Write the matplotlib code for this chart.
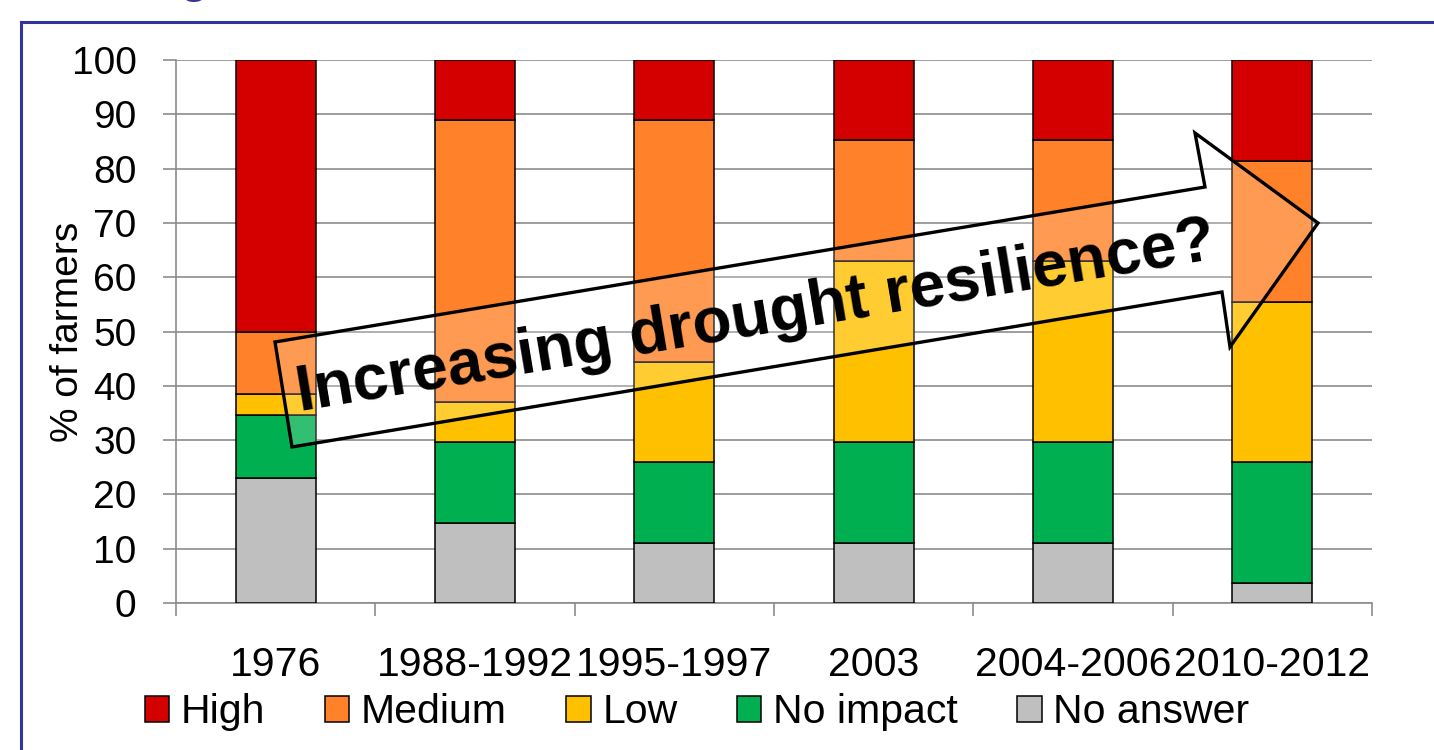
import numpy as np
import matplotlib
matplotlib.use("Agg")
import matplotlib.pyplot as plt
from matplotlib.patches import Patch, Polygon
from matplotlib.lines import Line2D

plt.rcParams['font.family'] = ['Liberation Sans', 'DejaVu Sans']

# data (% of farmers per drought impact class)
periods = ['1976', '1988-1992', '1995-1997', '2003', '2004-2006', '2010-2012']
high = [50.0, 11.1, 11.1, 14.8, 14.8, 18.6]
medium = [11.5, 51.9, 44.5, 22.2, 22.2, 25.9]
low = [3.9, 7.4, 18.5, 33.4, 33.4, 29.6]
no_impact = [11.5, 14.8, 14.8, 18.5, 18.5, 22.2]
no_answer = [23.1, 14.8, 11.1, 11.1, 11.1, 3.7]

series = [
    ('No answer', no_answer, '#BFBFBF'),
    ('No impact', no_impact, '#00B050'),
    ('Low', low, '#FFC000'),
    ('Medium', medium, '#FF8129'),
    ('High', high, '#D40000'),
]

W, H = 1434, 750
fig = plt.figure(figsize=(W / 100, H / 100), dpi=100)

def px(x, y):
    # figure pixel coords (top-left origin) -> figure fraction
    return x / W, 1 - y / H

# blue frame around the chart (top and left edges visible)
frame_col = '#333399'
fig.add_artist(Line2D([21 / W, 1.01], [1 - 22 / H] * 2, color=frame_col,
                      lw=2.2, transform=fig.transFigure))
fig.add_artist(Line2D([21 / W] * 2, [-0.01, 1 - 22 / H], color=frame_col,
                      lw=2.2, transform=fig.transFigure))

# bottom of a cut-off title
fig.text(194 / W, 1 + 10 / H, 'g', color=frame_col, fontsize=40,
         ha='center', va='baseline')

ax = fig.add_axes([176 / W, 1 - 603 / H, (1372 - 176) / W, (603 - 60) / H])

x = np.arange(len(periods))
bottom = np.zeros(len(periods))
for name, vals, col in series:
    ax.bar(x, vals, 0.4, bottom=bottom, color=col, edgecolor='black',
           linewidth=1.1, zorder=3, label=name)
    bottom += np.array(vals)

grid_col = '#8C8C8C'
ax.set_ylim(0, 100)
ax.set_xlim(-0.5, len(periods) - 0.5)
ax.set_yticks(np.arange(0, 101, 10))
ax.yaxis.grid(True, color=grid_col, lw=1.2, zorder=0)
ax.set_axisbelow(True)
ax.set_xticks(np.arange(-0.5, len(periods), 1.0))
ax.set_xticklabels([])
ax.set_xticks(x, minor=True)
ax.set_xticklabels(periods, minor=True)
ax.tick_params(axis='x', which='minor', length=0, pad=31, labelsize=29.5)
ax.tick_params(axis='x', which='major', length=13 / 1.389, width=1.2,
               color=grid_col, direction='out')
ax.tick_params(axis='y', length=13 / 1.389, width=1.2, color=grid_col,
               direction='out', pad=19, labelsize=28)
for s in ['top', 'right']:
    ax.spines[s].set_visible(False)
for s in ['left', 'bottom']:
    ax.spines[s].set_color(grid_col)
    ax.spines[s].set_linewidth(1.2)

ax.set_ylabel('% of farmers', fontsize=28)
ax.yaxis.set_label_coords((86 - 176) / 1196, 0.5)

order = ['High', 'Medium', 'Low', 'No impact', 'No answer']
colors = {n: c for n, _, c in series}
leg_handles = [Patch(facecolor=colors[n], edgecolor='black', lw=1.1)
               for n in order]
fig.legend(leg_handles, order, loc='center', bbox_to_anchor=px(697, 712),
           ncol=5, frameon=False, fontsize=29.5, handlelength=0.6,
           handleheight=0.6, handletextpad=0.28, columnspacing=1.45)

# big block arrow annotation
arrow_px = [(275, 342), (1205, 187), (1195, 133), (1318, 223),
            (1230, 347), (1222, 292), (292, 447)]
arrow = Polygon([px(a, b) for a, b in arrow_px], closed=True,
                transform=fig.transFigure, facecolor=(1, 1, 1, 0.2),
                edgecolor='black', lw=2.4, zorder=10)
fig.patches.append(arrow)
fig.text(*px(756, 318), 'Increasing drought resilience?', fontsize=46,
         fontweight='bold', rotation=9.46, rotation_mode='anchor',
         ha='center', va='center', zorder=11)

fig.savefig('out.png', dpi=100)
